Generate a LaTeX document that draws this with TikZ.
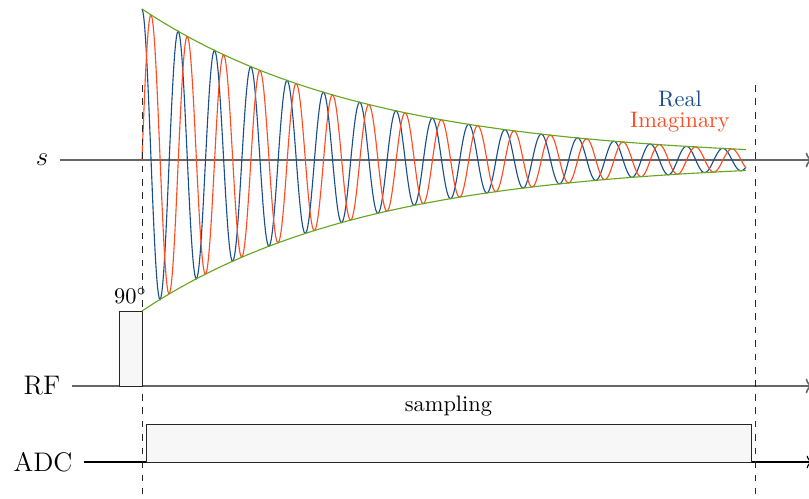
\documentclass[tikz,border=0pt]{standalone}
\usepackage{tikz}
\usetikzlibrary{arrows.meta,positioning}
\definecolor{FidReal}{HTML}{1A4E8C}
\definecolor{FidImag}{HTML}{FF4B1F}
\definecolor{FidEnv}{HTML}{66A61E}
\definecolor{FidBox}{HTML}{F7F7F7}
\newcommand{\fidenv}{2.371*exp(-\x/3.556)}

\begin{document}
\begin{tikzpicture}[
    axis/.style={->,line width=0.7pt,black!60},
    lbl/.style={font=\large,inner xsep=5.2pt,outer sep=0pt},
    marker/.style={dashed,thin,black!85},
    blk/.style={draw=black!85,fill=FidBox,thin,inner sep=0pt,outer sep=0pt},
    wave/.style={line width=0.5pt,domain=0:9.483,samples=700}
  ]
    \useasboundingbox (-2.229,-5.322) rectangle (10.472,2.512);
    \node[lbl] (sLbl) at (-1.57,0) {$s$};
    \node[lbl] (rfLbl) at (-1.57,-3.548) {RF};
    \node[lbl] (adcLbl) at (-1.554,-4.741) {ADC};
    \coordinate (sEnd) at (10.53,0);
    \coordinate (rfEnd) at (10.53,-3.548);
    \coordinate (adcEnd) at (10.53,-4.741);
    \draw[axis] (sLbl) -- (sEnd);
    \draw[axis] (rfLbl) -- (rfEnd);
    \draw[axis,black,line width=0.5pt] (adcLbl) -- (adcEnd);
    \node[blk,minimum width=0.361cm,minimum height=1.177cm,anchor=south east] (rf) at (0,-3.548) {};
    \node[above=0pt of rf] (flip) {$90^\circ$};
    \node[blk,minimum width=9.498cm,minimum height=0.596cm,anchor=south west] (adc) at (0.063,-4.741) {};
    \node[above=0pt of adc] (samp) {sampling};
    \draw[wave,FidReal] plot (\x,{\fidenv*cos(631.5*\x)});
    \draw[wave,FidImag] plot (\x,{\fidenv*sin(631.5*\x)});
    \draw[wave,FidEnv,samples=120] plot (\x,{\fidenv});
    \draw[wave,FidEnv,samples=120] plot (\x,{-\fidenv});
    \coordinate (t0top) at (0,1.178); \coordinate (t0bot) at (0,-5.244);
    \coordinate (t1top) at (9.624,1.178); \coordinate (t1bot) at (9.624,-5.244);
    \draw[marker] (t0top) -- (t0bot);
    \draw[marker] (t1top) -- (t1bot);
    \node[text=FidImag,inner sep=0pt] (imagLbl) at (8.447,0.597) {Imaginary};
    \node[text=FidReal,inner sep=0pt,above=2pt of imagLbl] (realLbl) {Real};
  \end{tikzpicture}
\end{document}
